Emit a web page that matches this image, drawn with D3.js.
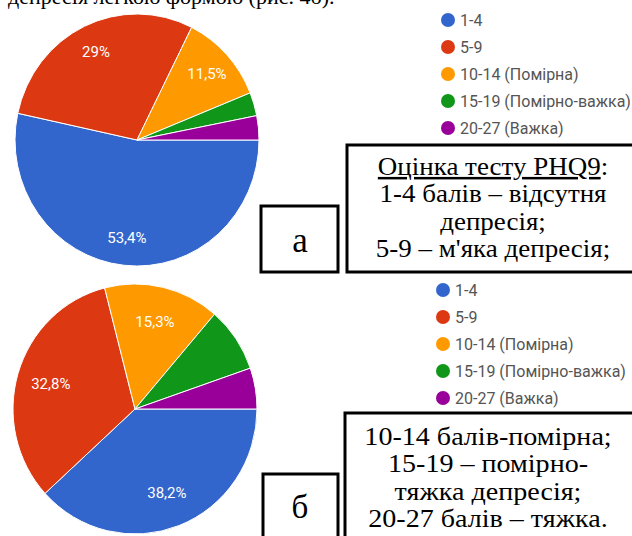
<!DOCTYPE html>
<meta charset="utf-8">
<style>
  body { margin: 0; background: #fff; }
  svg { display: block; }
  .lbl { font: 15px Roboto, Arial, sans-serif; fill: #fff; }
  .leg { font: 16px Roboto, Arial, sans-serif; fill: #555; }
  .serif { font-family: "Liberation Serif", "Times New Roman", serif; fill: #000; }
</style>
<body>
<svg id="chart" width="632" height="536"></svg>
<script src="https://d3js.org/d3.v7.min.js"></script>
<script>

  // categories (PHQ9 score groups) and two sets of shares, in %
  const categories = ['1-4', '5-9', '10-14 (Помірна)', '15-19 (Помірно-важка)', '20-27 (Важка)'];
  const valuesA = [53.4, 29, 11.5, 3.0, 3.1];
  const valuesB = [38.2, 32.8, 15.3, 8.4, 5.3];
  const labelsA = ['53,4%', '29%', '11,5%', '', ''];
  const labelsB = ['38,2%', '32,8%', '15,3%', '', ''];
  const colors = ['#3366cc', '#dc3912', '#ff9900', '#109618', '#990099'];

  const noteA = ['Оцінка тесту PHQ9:', '1-4 балів – відсутня', 'депресія;', "5-9 – м'яка депресія;"];
  const noteB = ['10-14 балів-помірна;', '15-19 – помірно-', 'тяжка депресія;', '20-27 балів – тяжка.'];

  const svg = d3.select('#chart');
  const color = d3.scaleOrdinal().domain(categories).range(colors);

  // clipped line of running text above the figure
  svg.append('text').attr('class', 'serif')
    .attr('x', 8).attr('y', 4)
    .style('font-size', '22px')
    .text('депресія легкою формою (рис. 4б).');

  function drawPie(values, labels, cx, cy, rx, ry, lr) {
    const pie = d3.pie().sort(null)
      .startAngle(Math.PI / 2).endAngle(Math.PI / 2 + 2 * Math.PI);
    const arcs = pie(values);
    const arc = d3.arc().innerRadius(0).outerRadius(rx);
    const labelArc = d3.arc().innerRadius(rx * lr).outerRadius(rx * lr);

    const g = svg.append('g')
      .attr('transform', `translate(${cx},${cy}) scale(1,${ry / rx})`);
    g.selectAll('path').data(arcs).enter().append('path')
      .attr('d', arc)
      .attr('fill', (d, i) => color(categories[i]))
      .attr('stroke', '#fff')
      .attr('stroke-width', 1)
      .attr('vector-effect', 'non-scaling-stroke');

    svg.append('g').attr('transform', `translate(${cx},${cy})`)
      .selectAll('text').data(arcs).enter().append('text')
      .attr('class', 'lbl')
      .attr('text-anchor', 'middle')
      .attr('dy', '0.35em')
      .attr('x', d => labelArc.centroid(d)[0])
      .attr('y', d => labelArc.centroid(d)[1] * ry / rx)
      .text((d, i) => labels[i]);
  }

  function drawLegend(x, y) {
    const rows = d3.scaleBand().domain(categories).range([y, y + 27 * 5]);
    const leg = svg.append('g');
    const item = leg.selectAll('g').data(categories).enter().append('g')
      .attr('transform', d => `translate(${x},${rows(d)})`);
    item.append('circle').attr('r', 7).attr('fill', d => color(d));
    item.append('text').attr('class', 'leg')
      .attr('x', 12).attr('dy', '0.36em').text(d => d);
  }

  function drawBox(x, y, w, h) {
    svg.append('rect')
      .attr('x', x).attr('y', y).attr('width', w).attr('height', h)
      .attr('fill', '#fff').attr('stroke', '#000').attr('stroke-width', 3);
  }

  function drawNote(lines, cx, y0, size, underlineFirst) {
    const g = svg.append('g')
      .attr('transform', `translate(${cx},0) scale(1.08,1)`);
    const t = g.append('text').attr('class', 'serif')
      .attr('text-anchor', 'middle').style('font-size', size + 'px');
    lines.forEach((s, i) => {
      const span = t.append('tspan').attr('x', 0).attr('y', y0 + i * 27.5);
      if (i === 0 && underlineFirst) {
        span.append('tspan').style('text-decoration', 'underline').text(s.slice(0, -1));
        span.append('tspan').text(s.slice(-1));
      } else {
        span.text(s);
      }
    });
  }

  drawPie(valuesA, labelsA, 137, 140, 122, 126, 0.78);
  drawLegend(448, 20);
  drawBox(261, 206, 77, 66);
  svg.append('text').attr('class', 'serif').attr('x', 300).attr('y', 252)
    .attr('text-anchor', 'middle').style('font-size', '35px').text('а');
  drawBox(347, 145, 290, 127);
  drawNote(noteA, 493, 175, 25, true);

  drawPie(valuesB, labelsB, 135, 409, 122, 125, 0.72);
  drawLegend(443, 290);
  drawBox(263, 474, 75, 70);
  svg.append('text').attr('class', 'serif').attr('x', 300).attr('y', 518)
    .attr('text-anchor', 'middle').style('font-size', '33px').text('б');
  drawBox(345, 413, 292, 130);
  drawNote(noteB, 488, 445, 26, false);

</script>
</body>
